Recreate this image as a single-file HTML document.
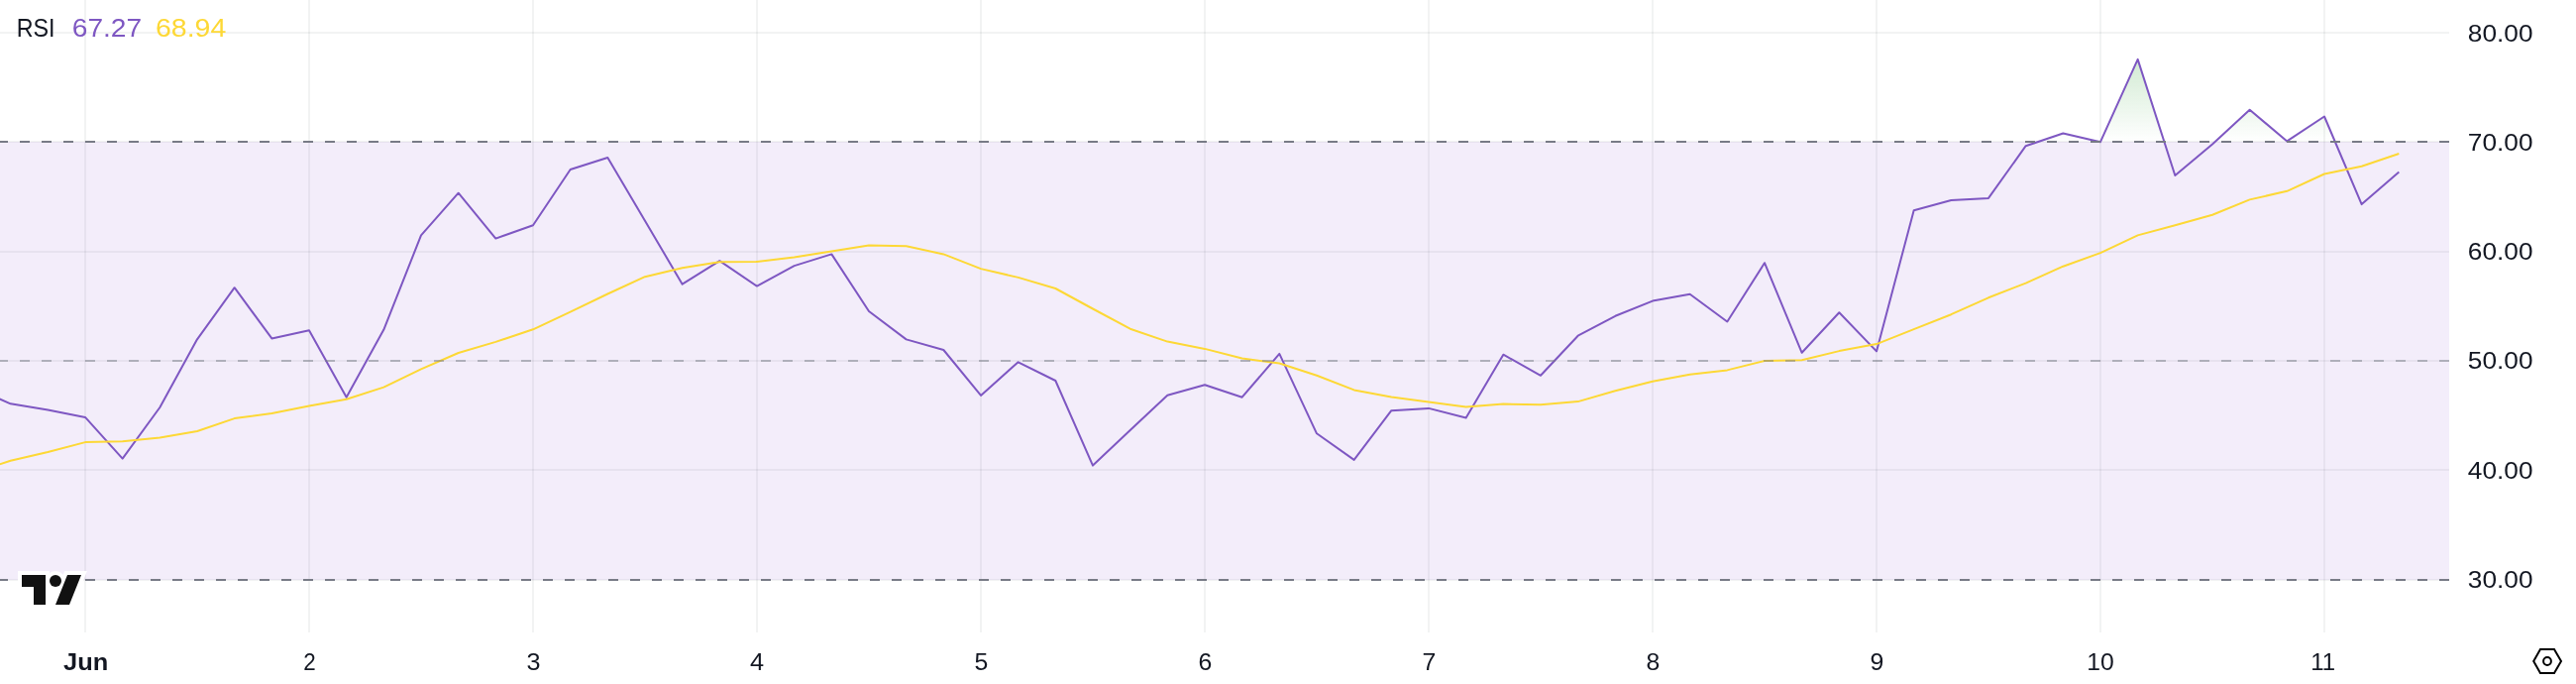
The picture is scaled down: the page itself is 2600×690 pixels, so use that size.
<!DOCTYPE html>
<html><head><meta charset="utf-8"><style>
html,body{margin:0;padding:0;background:#fff;}
body{width:2600px;height:690px;overflow:hidden;position:relative;font-family:"Liberation Sans",sans-serif;}
svg{position:absolute;left:0;top:0;will-change:transform;}
</style></head><body>
<svg width="2600" height="690" viewBox="0 0 2600 690">
<defs>
<linearGradient id="ob" gradientUnits="userSpaceOnUse" x1="0" y1="-187.8" x2="0" y2="143.0">
<stop offset="0" stop-color="#4caf50" stop-opacity="1"/><stop offset="1" stop-color="#4caf50" stop-opacity="0"/>
</linearGradient>
<clipPath id="above70"><rect x="0" y="0" width="2472" height="143.0"/></clipPath>
<clipPath id="pane"><rect x="0" y="0" width="2472" height="638"/></clipPath>
</defs>
<g fill="rgb(42,46,57)" fill-opacity="0.06"><rect x="85" y="0" width="2" height="638"/><rect x="311" y="0" width="2" height="638"/><rect x="537" y="0" width="2" height="638"/><rect x="763" y="0" width="2" height="638"/><rect x="989" y="0" width="2" height="638"/><rect x="1215" y="0" width="2" height="638"/><rect x="1441" y="0" width="2" height="638"/><rect x="1667" y="0" width="2" height="638"/><rect x="1893" y="0" width="2" height="638"/><rect x="2119" y="0" width="2" height="638"/><rect x="2345" y="0" width="2" height="638"/><rect x="0" y="32" width="2472" height="2"/><rect x="0" y="142" width="2472" height="2"/><rect x="0" y="253" width="2472" height="2"/><rect x="0" y="363" width="2472" height="2"/><rect x="0" y="473" width="2472" height="2"/><rect x="0" y="584" width="2472" height="2"/></g>
<rect x="0" y="143.0" width="2472" height="442.0" fill="rgb(135,75,205)" fill-opacity="0.1"/>
<g clip-path="url(#pane)">
<polygon points="-27.00,143.0 -27.00,391.00 10.67,407.30 48.33,413.60 86.00,420.90 123.67,462.60 161.33,411.00 199.00,342.30 236.67,290.20 274.33,341.40 312.00,333.20 349.67,400.80 387.33,332.60 425.00,237.40 462.67,194.70 500.33,240.60 538.00,227.20 575.67,171.00 613.33,159.00 651.00,222.70 688.67,286.70 726.33,263.20 764.00,288.60 801.67,268.10 839.33,256.40 877.00,314.00 914.67,342.40 952.33,353.00 990.00,398.90 1027.67,365.30 1065.33,384.00 1103.00,469.60 1140.67,434.00 1178.33,398.70 1216.00,388.20 1253.67,400.70 1291.33,356.90 1329.00,437.30 1366.67,463.90 1404.33,414.20 1442.00,411.90 1479.67,421.50 1517.33,357.70 1555.00,378.80 1592.67,338.70 1630.33,318.80 1668.00,303.60 1705.67,296.70 1743.33,324.50 1781.00,265.20 1818.67,355.80 1856.33,315.20 1894.00,354.40 1931.67,212.20 1969.33,202.00 2007.00,199.90 2044.67,147.20 2082.33,134.50 2120.00,143.20 2157.67,59.90 2195.33,177.00 2233.00,145.50 2270.67,110.80 2308.33,142.40 2346.00,117.50 2383.67,206.10 2421.33,173.50 2421.33,143.0" fill="url(#ob)" clip-path="url(#above70)"/>
<polyline points="-27.00,391.00 10.67,407.30 48.33,413.60 86.00,420.90 123.67,462.60 161.33,411.00 199.00,342.30 236.67,290.20 274.33,341.40 312.00,333.20 349.67,400.80 387.33,332.60 425.00,237.40 462.67,194.70 500.33,240.60 538.00,227.20 575.67,171.00 613.33,159.00 651.00,222.70 688.67,286.70 726.33,263.20 764.00,288.60 801.67,268.10 839.33,256.40 877.00,314.00 914.67,342.40 952.33,353.00 990.00,398.90 1027.67,365.30 1065.33,384.00 1103.00,469.60 1140.67,434.00 1178.33,398.70 1216.00,388.20 1253.67,400.70 1291.33,356.90 1329.00,437.30 1366.67,463.90 1404.33,414.20 1442.00,411.90 1479.67,421.50 1517.33,357.70 1555.00,378.80 1592.67,338.70 1630.33,318.80 1668.00,303.60 1705.67,296.70 1743.33,324.50 1781.00,265.20 1818.67,355.80 1856.33,315.20 1894.00,354.40 1931.67,212.20 1969.33,202.00 2007.00,199.90 2044.67,147.20 2082.33,134.50 2120.00,143.20 2157.67,59.90 2195.33,177.00 2233.00,145.50 2270.67,110.80 2308.33,142.40 2346.00,117.50 2383.67,206.10 2421.33,173.50" fill="none" stroke="#7e57c2" stroke-width="2" stroke-linejoin="round"/>
<polyline points="-27.00,476.80 10.67,464.80 48.33,456.00 86.00,446.10 123.67,445.30 161.33,441.60 199.00,435.00 236.67,422.10 274.33,416.90 312.00,409.60 349.67,402.80 387.33,390.60 425.00,372.40 462.67,356.00 500.33,344.90 538.00,332.30 575.67,314.70 613.33,296.50 651.00,279.20 688.67,270.30 726.33,264.30 764.00,264.00 801.67,259.40 839.33,253.50 877.00,247.40 914.67,248.30 952.33,256.40 990.00,271.10 1027.67,279.90 1065.33,291.00 1103.00,311.50 1140.67,331.70 1178.33,344.60 1216.00,351.90 1253.67,361.50 1291.33,366.50 1329.00,378.80 1366.67,393.40 1404.33,400.40 1442.00,405.40 1479.67,410.40 1517.33,407.50 1555.00,408.30 1592.67,405.10 1630.33,394.30 1668.00,384.70 1705.67,377.70 1743.33,373.40 1781.00,364.00 1818.67,363.20 1856.33,354.10 1894.00,347.10 1931.67,332.10 1969.33,317.20 2007.00,300.30 2044.67,285.60 2082.33,268.70 2120.00,255.10 2157.67,237.40 2195.33,227.30 2233.00,216.70 2270.67,201.40 2308.33,192.80 2346.00,175.50 2383.67,167.70 2421.33,155.00" fill="none" stroke="#fdd835" stroke-width="2" stroke-linejoin="round"/>
<g stroke-width="2" stroke-dasharray="10 12" fill="none">
<line x1="-2" y1="143.0" x2="2472" y2="143.0" stroke="#787b86"/>
<line x1="-2" y1="364.0" x2="2472" y2="364.0" stroke="#787b86" stroke-opacity="0.5"/>
<line x1="-2" y1="585.0" x2="2472" y2="585.0" stroke="#787b86"/>
</g>
</g>
<!-- logo -->
<g stroke="#fff" stroke-width="8" stroke-linejoin="miter" stroke-miterlimit="10" fill="#fff">
<path d="M22,580H46V610H34V592H22Z"/>
<circle cx="56" cy="586" r="6"/>
<path d="M68,580H82L70,610H56Z"/>
</g>
<g fill="#111111">
<path d="M22,580H46V610H34V592H22Z"/>
<circle cx="56" cy="586" r="6"/>
<path d="M68,580H82L70,610H56Z"/>
</g>
<!-- legend -->
<g font-family="Liberation Sans"><text transform="translate(16.70,37) scale(0.8965,1)" x="0" y="0" font-size="26" fill="#131722">RSI</text><text transform="translate(72.76,37) scale(1.0828,1)" x="0" y="0" font-size="26" fill="#7e57c2">67.27</text><text transform="translate(156.95,37) scale(1.0969,1)" x="0" y="0" font-size="26" fill="#fdd835">68.94</text></g>
<g font-family="Liberation Sans"><text transform="translate(2490.85,42) scale(1.0932,1)" x="0" y="0" font-size="24" fill="#131722">80.00</text><text transform="translate(2490.85,152) scale(1.0932,1)" x="0" y="0" font-size="24" fill="#131722">70.00</text><text transform="translate(2490.85,262) scale(1.0932,1)" x="0" y="0" font-size="24" fill="#131722">60.00</text><text transform="translate(2490.85,372) scale(1.0932,1)" x="0" y="0" font-size="24" fill="#131722">50.00</text><text transform="translate(2490.85,483) scale(1.0932,1)" x="0" y="0" font-size="24" fill="#131722">40.00</text><text transform="translate(2490.85,593) scale(1.0932,1)" x="0" y="0" font-size="24" fill="#131722">30.00</text></g>
<g font-family="Liberation Sans"><text transform="translate(64.07,676) scale(1.0585,1)" x="0" y="0" font-size="24" font-weight="bold" fill="#131722">Jun</text><text transform="translate(306.33,676) scale(0.9333,1)" x="0" y="0" font-size="24" fill="#131722">2</text><text transform="translate(531.48,676) scale(1.0500,1)" x="0" y="0" font-size="24" fill="#131722">3</text><text transform="translate(757.07,676) scale(1.0560,1)" x="0" y="0" font-size="24" fill="#131722">4</text><text transform="translate(983.48,676) scale(1.0333,1)" x="0" y="0" font-size="24" fill="#131722">5</text><text transform="translate(1209.48,676) scale(1.0333,1)" x="0" y="0" font-size="24" fill="#131722">6</text><text transform="translate(1435.48,676) scale(1.0333,1)" x="0" y="0" font-size="24" fill="#131722">7</text><text transform="translate(1661.48,676) scale(1.0333,1)" x="0" y="0" font-size="24" fill="#131722">8</text><text transform="translate(1887.48,676) scale(1.0333,1)" x="0" y="0" font-size="24" fill="#131722">9</text><text transform="translate(2106.35,676) scale(1.0320,1)" x="0" y="0" font-size="24" fill="#131722">10</text><text transform="translate(2332.30,676) scale(1.0000,1)" x="0" y="0" font-size="24" fill="#131722">11</text></g>
<!-- settings -->
<g fill="none" stroke="#000" stroke-width="2" stroke-linejoin="miter">
<path d="M2557.2,667L2564,655H2578L2585,667L2578,679H2564Z"/>
<circle cx="2571" cy="667" r="3.9"/>
</g>
</svg>
</body></html>
